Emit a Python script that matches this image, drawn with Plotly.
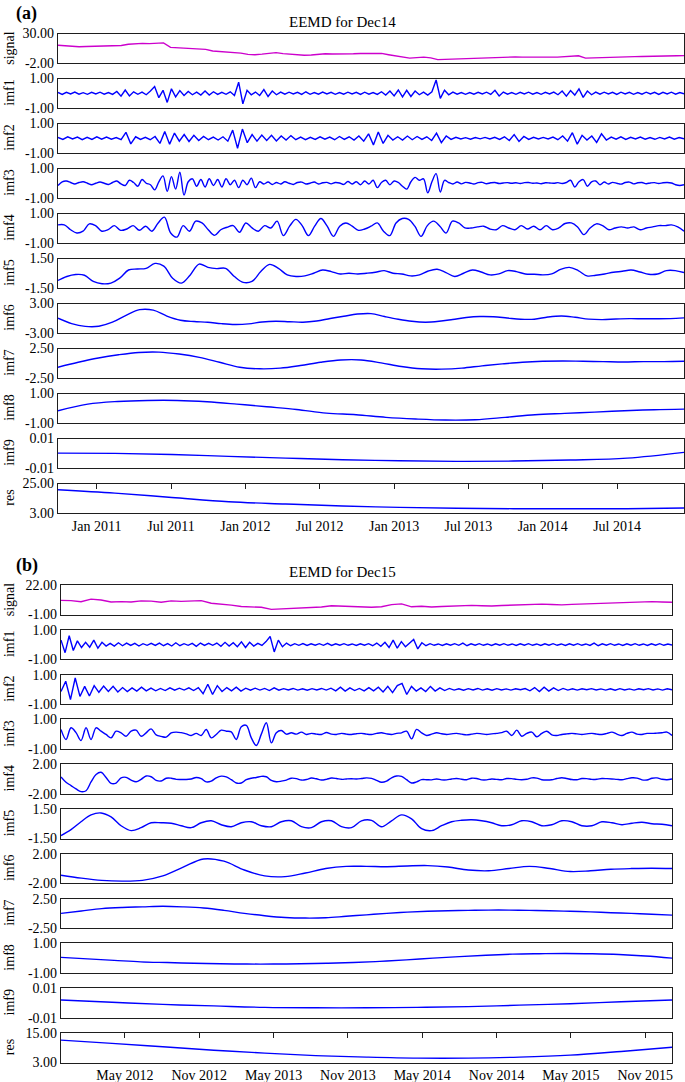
import numpy as np
import plotly.graph_objects as go

# ---------------- data ----------------
component_names = ["signal", "imf1", "imf2", "imf3", "imf4", "imf5",
                   "imf6", "imf7", "imf8", "imf9", "res"]

# time axis (decimal years) and tick labels
a_time_span = [2010.74, 2014.95]
a_xticks = [2011.0, 2011.5, 2012.0, 2012.5, 2013.0, 2013.5, 2014.0, 2014.5]
a_xticklabels = ["Jan 2011", "Jul 2011", "Jan 2012", "Jul 2012",
                 "Jan 2013", "Jul 2013", "Jan 2014", "Jul 2014"]
b_time_span = [2011.90, 2016.01]
b_xticks = [2012.33, 2012.83, 2013.33, 2013.83, 2014.33, 2014.83, 2015.33, 2015.83]
b_xticklabels = ["May 2012", "Nov 2012", "May 2013", "Nov 2013",
                 "May 2014", "Nov 2014", "May 2015", "Nov 2015"]

a_yranges = [(-2, 30), (-1, 1), (-1, 1), (-1, 1), (-1, 1), (-1.5, 1.5),
             (-3, 3), (-2.5, 2.5), (-1, 1), (-0.01, 0.01), (3, 25)]
b_yranges = [(-1, 22), (-1, 1), (-1, 1), (-1, 1), (-2, 2), (-1.5, 1.5),
             (-2, 2), (-2.5, 2.5), (-1, 1), (-0.01, 0.01), (3, 15)]

# ---- panel (a): EEMD for Dec14 ----
a_signal = [17.2, 16.5, 15.8, 15.6, 15.9, 16.1, 16.0, 16.3, 16.0, 17.0,
            18.3, 18.8, 19.3, 19.0, 19.5, 19.8, 15.0, 14.5, 13.8, 13.0,
            12.5, 12.8, 11.0, 10.5, 10.0, 9.5, 8.7, 7.4, 7.0, 7.6,
            8.7, 9.2, 8.2, 7.6, 6.5, 6.4, 6.6, 7.2, 8.1, 7.8,
            7.6, 7.6, 8.0, 8.3, 8.5, 8.7, 8.4, 7.0, 5.5, 4.0,
            3.3, 3.8, 4.4, 3.6, 1.7, 1.9, 2.2, 2.8, 3.0, 3.4,
            3.8, 4.2, 4.4, 4.2, 4.4, 4.6, 4.4, 4.2, 4.4, 4.6,
            4.4, 4.4, 5.0, 6.0, 5.8, 3.3, 3.6, 4.0, 4.4, 4.2,
            4.6, 4.8, 4.9, 5.0, 5.3, 5.2, 5.5, 5.6, 5.8, 6.0]

a_imf1 = [0.05, -0.08, 0.06, -0.05, 0.08, -0.06, 0.04, -0.07, 0.06, -0.05,
          0.07, -0.06, 0.05, -0.08, 0.12, -0.2, 0.22, -0.18, 0.1, -0.07,
          0.08, -0.1, 0.15, 0.45, -0.3, 0.2, -0.62, 0.3, -0.25, 0.18,
          -0.15, 0.12, -0.1, 0.08, -0.12, 0.15, -0.12, 0.1, -0.08, 0.06,
          -0.07, 0.1, -0.15, 0.75, -0.72, 0.2, -0.1, 0.08, -0.15, 0.25,
          -0.22, 0.15, -0.1, 0.08, -0.06, 0.07, -0.05, 0.06, -0.08, 0.1,
          -0.07, 0.05, -0.06, 0.08, -0.05, 0.06, -0.07, 0.05, -0.06, 0.07,
          -0.05, 0.06, -0.08, 0.07, -0.06, 0.05, -0.08, 0.1, -0.12, 0.15,
          -0.18, 0.22, -0.25, 0.2, -0.22, 0.15, -0.1, 0.08, -0.12, 0.1,
          0.9, -0.35, 0.2, -0.1, 0.08, -0.06, 0.05, -0.07, 0.05, -0.06,
          0.06, -0.05, 0.07, -0.08, 0.2, -0.18, 0.08, -0.06, 0.05, -0.07,
          0.06, -0.05, 0.07, -0.06, 0.05, -0.07, 0.06, -0.05, 0.08, -0.1,
          0.15, -0.2, 0.18, -0.12, 0.3, -0.28, 0.15, -0.1, 0.08, -0.06,
          0.07, -0.05, 0.06, -0.08, 0.07, -0.05, 0.06, -0.07, 0.05, -0.06,
          0.07, -0.05, 0.06, -0.08, 0.06, -0.05, 0.07, -0.06, 0.05, -0.04]

a_imf2 = [0.05, -0.08, 0.1, -0.05, 0.08, -0.1, 0.06, -0.08, 0.1, -0.06,
          0.08, -0.06, 0.05, -0.1, 0.4, -0.38, 0.1, -0.08, 0.06, -0.1,
          0.12, -0.35, 0.45, -0.4, 0.35, -0.2, 0.25, -0.22, 0.2, -0.15,
          0.12, -0.1, 0.08, -0.12, 0.1, -0.2, 0.55, -0.68, 0.62, -0.3,
          0.25, -0.2, 0.22, -0.15, 0.2, -0.18, 0.15, -0.12, 0.18, -0.1,
          0.08, -0.1, 0.06, -0.08, 0.1, -0.06, 0.08, -0.1, 0.12, -0.08,
          0.1, -0.12, 0.15, -0.2, 0.3, -0.45, 0.42, -0.35, 0.2, -0.12,
          0.1, -0.12, 0.15, -0.1, 0.12, -0.08, 0.1, -0.15, 0.35, -0.3,
          0.15, -0.08, 0.06, -0.05, 0.04, -0.06, 0.05, -0.04, 0.06, -0.05,
          0.06, -0.08, 0.1, -0.15, 0.25, -0.22, 0.12, -0.08, 0.06, -0.05,
          0.06, -0.05, 0.08, -0.1, 0.15, -0.2, 0.38, -0.4, 0.2, -0.12,
          0.15, -0.28, 0.3, -0.12, 0.08, -0.06, 0.1, -0.08, 0.06, -0.05,
          0.08, -0.06, 0.05, -0.07, 0.06, -0.05, 0.08, -0.06, 0.05, -0.04]

a_imf3 = [-0.15, 0.1, 0.15, 0.05, -0.05, 0.05, 0.1, 0.0, -0.1, 0.0, 0.08, 0.0, -0.08,
          0.05, 0.15, -0.05, -0.15, 0.2, 0.05, -0.2, 0.25, 0.0, -0.1,
          -0.45, 0.1, 0.5, -0.55, 0.45, -0.4, 0.75, -0.8, 0.1,
          0.3, -0.2, 0.25, -0.25, 0.3, -0.15, 0.25, -0.25, 0.3, -0.1, 0.2, -0.3, 0.2, -0.1,
          0.35, -0.3, 0.1, -0.05,
          0.08, -0.08, 0.05, -0.05, 0.1, 0.0, -0.08, 0.05, 0.08, -0.05, 0.0, 0.08, -0.05,
          0.03, 0.06, -0.04, 0.05,
          0.02, -0.08, 0.12, -0.05, 0.1, -0.1, 0.15, -0.05, 0.2,
          -0.3, 0.05, 0.2, -0.1, 0.15, 0.05, -0.2, -0.4, 0.1, 0.4, 0.2, 0.3, -0.65, 0.1,
          0.65, -0.6, 0.2,
          0.05, -0.05, 0.08, -0.04, 0.06, 0.02, -0.05, 0.04, 0.06, -0.03, 0.03, 0.05,
          -0.02, 0.02, 0.04, 0.0, 0.03, -0.02, 0.04, 0.05, 0.0, 0.02, -0.03, 0.03, 0.02,
          0.0, 0.04, -0.02, 0.05,
          0.2, -0.25, 0.1, 0.25, -0.2, 0.1, 0.15, -0.1,
          0.08, -0.05, 0.06, 0.0, -0.06, 0.05, 0.08, -0.04, 0.03, 0.05, -0.03, 0.02,
          0.04, -0.02, 0.03, 0.05, 0.02, -0.1, -0.15, -0.1]

a_imf4 = [0.23, 0.23, -0.1, -0.32, -0.2, 0.3, 0.18, -0.2, -0.1, 0.18,
          -0.14, -0.05, 0.18, -0.14, 0.14, -0.2, 0.36, 0.75, -0.32, -0.6,
          0.18, -0.2, 0.48, 0.36, -0.1, -0.48, -0.1, 0.07, 0.18, -0.27,
          0.36, 0.02, -0.2, 0.18, 0.02, 0.48, -0.5, 0.14, 0.6, 0.18,
          -0.5, 0.14, 0.66, 0.14, -0.55, 0.14,
          0.36, 0.14, -0.14, -0.05, 0.14, 0.36, -0.2, -0.5, 0.36, 0.66,
          0.6, 0.14, -0.55, 0.18, 0.48, 0.14, -0.32, 0.48, 0.36, 0.02,
          0.02, 0.09, 0.14, -0.05, -0.1, 0.18, 0.02, -0.1, 0.18, -0.05,
          0.14, -0.1, 0.18, -0.1, 0.02, 0.32, 0.36, 0.09, -0.43, 0.02,
          0.3, 0.18, -0.1, 0.02, 0.09, 0.02, 0.09, -0.1, 0.02, 0.09,
          0.18, 0.18, 0.23, 0.09, -0.2]

a_imf5 = [-0.73, -0.33, -0.13, -0.2, -0.83, -1.07, -1.0, -0.5, 0.33, 0.43,
          0.5, 1.0, 0.73, -0.5, -1.0, -0.17, 0.93, 0.6, 0.47, 0.5,
          -0.33, -0.93, -0.83, 0.17, 0.9, 0.5, -0.17, -0.33, -0.27, 0.0,
          0.33, 0.17, -0.07, 0.0,
          -0.07, 0.0, 0.1, 0.27, 0.0, -0.07, -0.27, -0.17, 0.23, 0.4,
          0.07, -0.33, 0.0, 0.33, 0.13, -0.17, -0.07, 0.27, 0.17, -0.07,
          -0.1, -0.17, -0.07, 0.4, 0.6, 0.27, -0.27, -0.2, -0.07, 0.1,
          0.2, 0.33, 0.13, -0.1, -0.07, 0.27, 0.27, 0.07]

a_imf6 = [0.0, -1.1, -1.65, -1.62, -0.8, 0.6, 1.75, 1.65, 0.45, -0.4,
          -0.67, -0.8, -1.1, -1.27, -1.15, -0.75, -0.6, -0.7, -0.8, -0.55,
          -0.05, 0.4, 0.85, 0.95, 0.35, -0.2, -0.62, -0.8, -0.62, -0.25,
          0.15, 0.35, 0.3, 0.05, -0.2, -0.2, 0.25, 0.47, 0.2, -0.18,
          -0.27, -0.15, -0.08, -0.1, -0.1, -0.07, 0.07]

a_imf7 = [-0.67, 0.17, 0.89, 1.44, 1.83, 1.89, 1.56, 1.0, 0.17, -0.67,
          -0.94, -0.83, -0.39, 0.17, 0.56, 0.56, 0.06, -0.56, -0.94, -1.0,
          -0.83, -0.44, -0.11, 0.17, 0.33, 0.39, 0.33, 0.28, 0.22, 0.28,
          0.28, 0.33]

a_imf8 = [-0.17, 0.28, 0.46, 0.53, 0.53, 0.44, 0.28, 0.1, -0.08, -0.33,
          -0.44, -0.62, -0.73, -0.8, -0.78, -0.62, -0.44, -0.35, -0.26, -0.17,
          -0.1, -0.06]

a_imf9 = [0.0001, -0.0001, -0.0008, -0.0021, -0.0033, -0.0044, -0.0051,
          -0.0055, -0.0053, -0.0046, -0.0033, 0.0006]

a_res = [20.3, 17.8, 14.6, 11.4, 9.7, 8.2, 7.2, 6.5, 6.2, 6.2, 6.2, 6.7]

# ---- panel (b): EEMD for Dec15 ----
b_signal = [10.0, 9.8, 9.0, 11.0, 10.3, 8.8, 9.0, 8.8, 9.6, 9.4,
            8.6, 9.6, 9.2, 9.7, 9.8, 7.8, 7.3, 6.3, 5.2, 4.8,
            4.6, 3.0, 3.3, 3.6, 4.1, 4.4, 4.9, 5.8, 5.4, 4.9,
            4.5, 4.6, 5.0, 6.7, 7.3, 5.0, 5.4, 4.9, 5.2, 5.5,
            5.9, 6.1, 5.8, 5.6, 6.0, 6.3, 6.4, 6.7, 7.1, 6.8,
            6.5, 6.9, 7.2, 7.5, 7.7, 8.0, 8.3, 8.5, 8.9, 9.0,
            8.8, 8.5]

b_imf1 = [0.3, -0.55, 0.6, -0.4, 0.25, -0.2, 0.15, -0.18, 0.3, -0.25,
          0.15, -0.1, 0.08, -0.1, 0.12, -0.08, 0.1, -0.06, 0.08, -0.1,
          0.06, -0.05, 0.08, -0.06, 0.1, -0.08, 0.06, -0.1, 0.12, -0.08,
          0.06, -0.05, 0.08, -0.12, 0.1, -0.06, 0.08, -0.05, 0.1, -0.12,
          0.15, -0.1, 0.12, -0.15, 0.18, -0.2, 0.15, -0.1, 0.08, -0.06,
          0.2, 0.55, -0.5, 0.3, -0.15, 0.1, -0.08, 0.06, -0.05, 0.07,
          -0.06, 0.05, -0.04, 0.06, -0.05, 0.08, -0.06, 0.05, -0.04, 0.06,
          -0.05, 0.04, -0.06, 0.05, -0.04, 0.06, -0.08, 0.1, -0.12, 0.15,
          -0.2, 0.3, -0.25, 0.2, -0.15, 0.1, 0.35, -0.3, 0.12, -0.08,
          0.06, -0.05, 0.04, -0.06, 0.05, -0.04, 0.06, -0.05, 0.1, -0.08,
          0.05, -0.04, 0.06, -0.05, 0.04, -0.06, 0.05, -0.04, 0.06, -0.05,
          0.04, -0.06, 0.05, -0.04, 0.06, -0.05, 0.04, -0.06, 0.05, -0.04,
          0.06, -0.05, 0.04, -0.06, 0.05, -0.04, 0.06, -0.05, 0.04, -0.06,
          0.1, -0.08, 0.05, -0.04, 0.06, -0.05, 0.04, -0.06, 0.05, -0.04,
          0.06, -0.05, 0.04, -0.06, 0.05, -0.04, 0.06, -0.05, 0.04, -0.03]

b_imf2 = [-0.14, 0.55, -0.7, 0.77, -0.48, 0.2, -0.45, 0.25, -0.2, 0.22,
          -0.15, 0.2, -0.18, 0.12, -0.15, 0.1, -0.12, 0.15, -0.1, 0.08,
          -0.1, 0.06, -0.08, 0.1, -0.06, 0.08, -0.05, 0.1, -0.08, 0.12,
          -0.3, 0.35, -0.35, 0.25, -0.15, 0.12, -0.1, 0.15, -0.12, 0.08,
          -0.06, 0.08, -0.05, 0.06, -0.08, 0.1, -0.06, 0.05, -0.04, 0.06,
          -0.05, 0.04, -0.06, 0.05, -0.04, 0.06, -0.05, 0.08, -0.1, 0.15,
          -0.12, 0.1, -0.08, 0.06, -0.1, 0.12, -0.1, 0.15, -0.18, 0.2,
          -0.22, 0.25, 0.4, -0.35, 0.2, -0.12, 0.1, -0.15, 0.2, -0.12,
          0.1, -0.08, 0.06, -0.05, 0.04, -0.06, 0.05, -0.04, 0.06, -0.05,
          0.04, -0.06, 0.05, -0.04, 0.03, -0.05, 0.04, -0.03, 0.05, -0.1,
          0.12, -0.15, 0.15, -0.12, 0.1, -0.08, 0.06, -0.05, 0.04, -0.05,
          0.04, -0.03, 0.05, -0.04, 0.03, -0.05, 0.04, -0.06, 0.05, -0.04,
          0.03, -0.05, 0.04, -0.03, 0.05, -0.04, 0.03, -0.05, 0.04, -0.03]

b_imf3 = [0.32, -0.36, 0.43, 0.1, -0.43, 0.43, -0.36, 0.43, 0.2, -0.02,
          -0.25, 0.2, 0.09, -0.14, 0.2, 0.27, -0.14, 0.09, 0.36, -0.05,
          -0.15, -0.2, 0.09, 0.14, 0.1, 0.02, -0.09, 0.05, -0.09, 0.32,
          -0.25, -0.02, 0.27, 0.2, 0.15, -0.36, 0.5, 0.6, -0.25, -0.77,
          0.0, 0.77, -0.59, 0.1, 0.25, 0.0, 0.09, 0.0, 0.14, -0.02,
          0.05, 0.0, -0.02, 0.11, 0.0, -0.02, 0.05, 0.0, -0.02, 0.03,
          0.05, 0.0, -0.02, 0.05, 0.09, 0.02, -0.02, 0.05, 0.09, 0.2,
          -0.32, 0.32, 0.09, -0.09, 0.0, 0.09, 0.03, -0.02, 0.02, 0.05,
          0.0, -0.05, 0.0, 0.05, 0.02, -0.02, 0.02, 0.05, 0.1, 0.2,
          -0.09, 0.27, -0.14, 0.05, 0.14, -0.18, 0.05, 0.2, -0.05, -0.09,
          -0.02, 0.02, 0.05, 0.02, -0.02, 0.02, 0.05, 0.0, -0.02, 0.05,
          0.14, 0.0, -0.09, 0.05, 0.14, 0.0, -0.02, 0.05, 0.05, 0.07,
          0.09, 0.14, -0.09]

b_imf4 = [0.27, -0.45, -0.9, -1.35, -1.72, -1.6, -0.4, 0.6, 0.9, 0.2,
          -0.6, -0.55, 0.15, 0.22, -0.15, -0.38, -0.05, 0.4, 0.3, -0.2,
          -0.28, 0.1, 0.1, -0.05, -0.07, -0.08, 0.0, 0.2, 0.05, -0.4,
          -0.3, 0.15, 0.38, 0.28, -0.1, -0.55, -0.55, -0.1, 0.1, 0.2,
          0.35, 0.3, -0.2, -0.38, -0.3, -0.15, 0.1, 0.05, -0.15, -0.08,
          0.12, 0.02, -0.15, -0.05, 0.12, 0.06, -0.05, 0.0, 0.03, 0.0,
          0.06, 0.15, 0.08, -0.18, -0.45, -0.3, 0.15, 0.4, 0.35, -0.1,
          -0.55, -0.4,
          -0.1, -0.1, -0.12, 0.0, -0.12, -0.12, 0.0, 0.06, -0.04, -0.1,
          0.1, 0.06, -0.12, -0.12, 0.0, -0.06, -0.1, 0.06, 0.04, -0.06,
          -0.1, -0.04, 0.14, 0.12, -0.1, -0.14, -0.1, 0.06, 0.16, 0.06,
          -0.08, -0.1, 0.06, 0.04, -0.06, -0.04, 0.06, 0.04, 0.0, -0.06,
          -0.1, 0.04, 0.16, 0.12, -0.12, -0.14, 0.1, 0.14, -0.04, -0.1,
          0.0]

b_imf5 = [-1.2, -0.6, 0.2, 0.9, 1.1, 0.7, -0.2, -0.7, -0.4, 0.1,
          0.1, 0.05, -0.2, -0.4, 0.1, 0.3, -0.1, -0.3, 0.1, 0.2,
          -0.2, -0.3, 0.2, 0.3, -0.3, -0.4, 0.2, 0.3, -0.3, -0.4,
          0.3, 0.35, -0.3, 0.3, 0.9, 0.5, -0.5, -0.7, -0.2, 0.2,
          0.35, 0.4, 0.3, 0.1, -0.2, -0.1, 0.3, 0.2, -0.2, -0.1,
          0.3, 0.2, -0.2, -0.2, 0.2, 0.1, -0.1, 0.05, 0.15, 0.0,
          -0.05, -0.2]

b_imf6 = [-0.9, -1.3, -1.6, -1.7, -1.6, -1.0, 0.2, 1.3, 1.0, -0.2,
          -1.0, -1.1, -0.6, 0.0, 0.3, 0.3, 0.25, 0.35, 0.4, 0.2,
          -0.2, -0.3, 0.0, 0.3, 0.0, -0.4, -0.3, -0.1, 0.0, 0.05,
          0.0]

b_imf7 = [0.0, 0.4, 0.8, 1.0, 1.1, 1.2, 1.1, 0.9, 0.5, 0.0,
          -0.4, -0.7, -0.8, -0.75, -0.5, -0.25, 0.0, 0.2, 0.35, 0.45,
          0.5, 0.55, 0.55, 0.5, 0.45, 0.35, 0.25, 0.1, 0.0, -0.15,
          -0.3]

b_imf8 = [0.05, -0.05, -0.15, -0.25, -0.3, -0.35, -0.38, -0.4, -0.4, -0.38,
          -0.35, -0.3, -0.22, -0.12, 0.0, 0.1, 0.2, 0.27, 0.3, 0.32,
          0.3, 0.25, 0.15, 0.0]

b_imf9 = [0.002, 0.0005, -0.001, -0.002, -0.003, -0.0033, -0.0033, -0.003,
          -0.0025, -0.0015, -0.0005, 0.0008, 0.002]

b_res = [12.1, 10.8, 9.4, 8.0, 6.8, 5.8, 5.2, 4.8, 4.8, 5.2, 6.0, 7.5, 9.2]

a_series = [a_signal, a_imf1, a_imf2, a_imf3, a_imf4, a_imf5,
            a_imf6, a_imf7, a_imf8, a_imf9, a_res]
b_series = [b_signal, b_imf1, b_imf2, b_imf3, b_imf4, b_imf5,
            b_imf6, b_imf7, b_imf8, b_imf9, b_res]

# ---------------- figure ----------------
W, H = 685, 1082
FONT = "'Liberation Serif', 'Times New Roman', 'DejaVu Serif', serif"
BOX = "#1e1e1e"
MAGENTA = "#cc00cc"
BLUE = "#0000ff"

panels = [
    dict(series=a_series, yr=a_yranges, span=a_time_span, ticks=a_xticks,
         labels=a_xticklabels, left=58, right=684, top0=33.5, step=45.0,
         title="EEMD for Dec14", tag="(a)", title_y=22, tag_y=13),
    dict(series=b_series, yr=b_yranges, span=b_time_span, ticks=b_xticks,
         labels=b_xticklabels, left=61, right=672, top0=585.0, step=44.8,
         title="EEMD for Dec15", tag="(b)", title_y=572, tag_y=565),
]

fig = go.Figure()
layout = dict(width=W, height=H, margin=dict(l=0, r=0, t=0, b=0, autoexpand=False),
              paper_bgcolor="white", plot_bgcolor="white", showlegend=False,
              font=dict(family=FONT, size=14, color="black"))
annotations = []
BOXH = 29.5
n = 0
extra = 40
for p in panels:
    t0, t1 = p["span"]
    for i, name in enumerate(component_names):
        n += 1
        vals = p["series"][i]
        t = np.linspace(t0, t1, len(vals))
        color = MAGENTA if i == 0 else BLUE
        shape = "linear" if i in (0, 1, 2) else "spline"
        fig.add_trace(go.Scatter(x=t, y=vals, mode="lines",
                                 line=dict(color=color, width=1.4, shape=shape),
                                 xaxis=f"x{n}", yaxis=f"y{n}", hoverinfo="skip"))
        top = p["top0"] + i * p["step"]
        bot = top + BOXH
        lo, hi = p["yr"][i]
        is_last = (i == len(component_names) - 1)
        dom = [p["left"] / W, p["right"] / W]
        layout[f"xaxis{n}"] = dict(
            domain=dom, range=[t0, t1],
            anchor=f"y{n}", showgrid=False, zeroline=False, showline=True,
            mirror=True, linecolor=BOX, linewidth=1.3, ticks="",
            showticklabels=is_last, tickvals=p["ticks"], ticktext=p["labels"],
            tickfont=dict(family=FONT, size=14, color="black"), fixedrange=True,
            automargin=False)
        layout[f"yaxis{n}"] = dict(
            domain=[1 - bot / H, 1 - top / H], range=[lo, hi], anchor=f"x{n}",
            showgrid=False, zeroline=False, showline=True, mirror=True,
            linecolor=BOX, linewidth=1.3, ticks="",
            tickvals=[lo, hi], ticktext=[f"{lo:.2f}", f"{hi:.2f}"],
            tickfont=dict(family=FONT, size=14, color="black"), fixedrange=True,
            automargin=False)
        annotations.append(dict(text=name, xref="paper", yref="paper",
                                x=9.5 / W, y=1 - (top + BOXH / 2) / H,
                                xanchor="center", yanchor="middle", textangle=-90,
                                showarrow=False,
                                font=dict(family=FONT, size=14, color="black")))
        if is_last:
            extra += 1
            # top-side inside tick marks on the residual axes
            layout[f"xaxis{extra}"] = dict(
                overlaying=f"x{n}", side="top", anchor=f"y{n}", range=[t0, t1],
                domain=dom, tickvals=p["ticks"], ticks="inside", ticklen=5,
                tickwidth=1, tickcolor=BOX, showticklabels=False, showline=False,
                showgrid=False, zeroline=False, fixedrange=True, automargin=False)
            fig.add_trace(go.Scatter(x=t, y=vals, mode="lines", opacity=0,
                                     line=dict(color=color, width=1),
                                     xaxis=f"x{extra}", yaxis=f"y{n}",
                                     hoverinfo="skip"))
    annotations.append(dict(text=p["title"], xref="paper", yref="paper",
                            x=342 / W, y=1 - p["title_y"] / H, xanchor="center",
                            yanchor="middle", showarrow=False,
                            font=dict(family=FONT, size=15, color="black")))
    annotations.append(dict(text="<b>" + p["tag"] + "</b>", xref="paper",
                            yref="paper", x=14 / W, y=1 - p["tag_y"] / H,
                            xanchor="left", yanchor="middle", showarrow=False,
                            font=dict(family=FONT, size=18, color="black")))

layout["annotations"] = annotations
fig.update_layout(**layout)
fig.write_html("out.html", config={"displayModeBar": False},
               post_script="document.body.style.margin='0';document.body.style.padding='0';")
